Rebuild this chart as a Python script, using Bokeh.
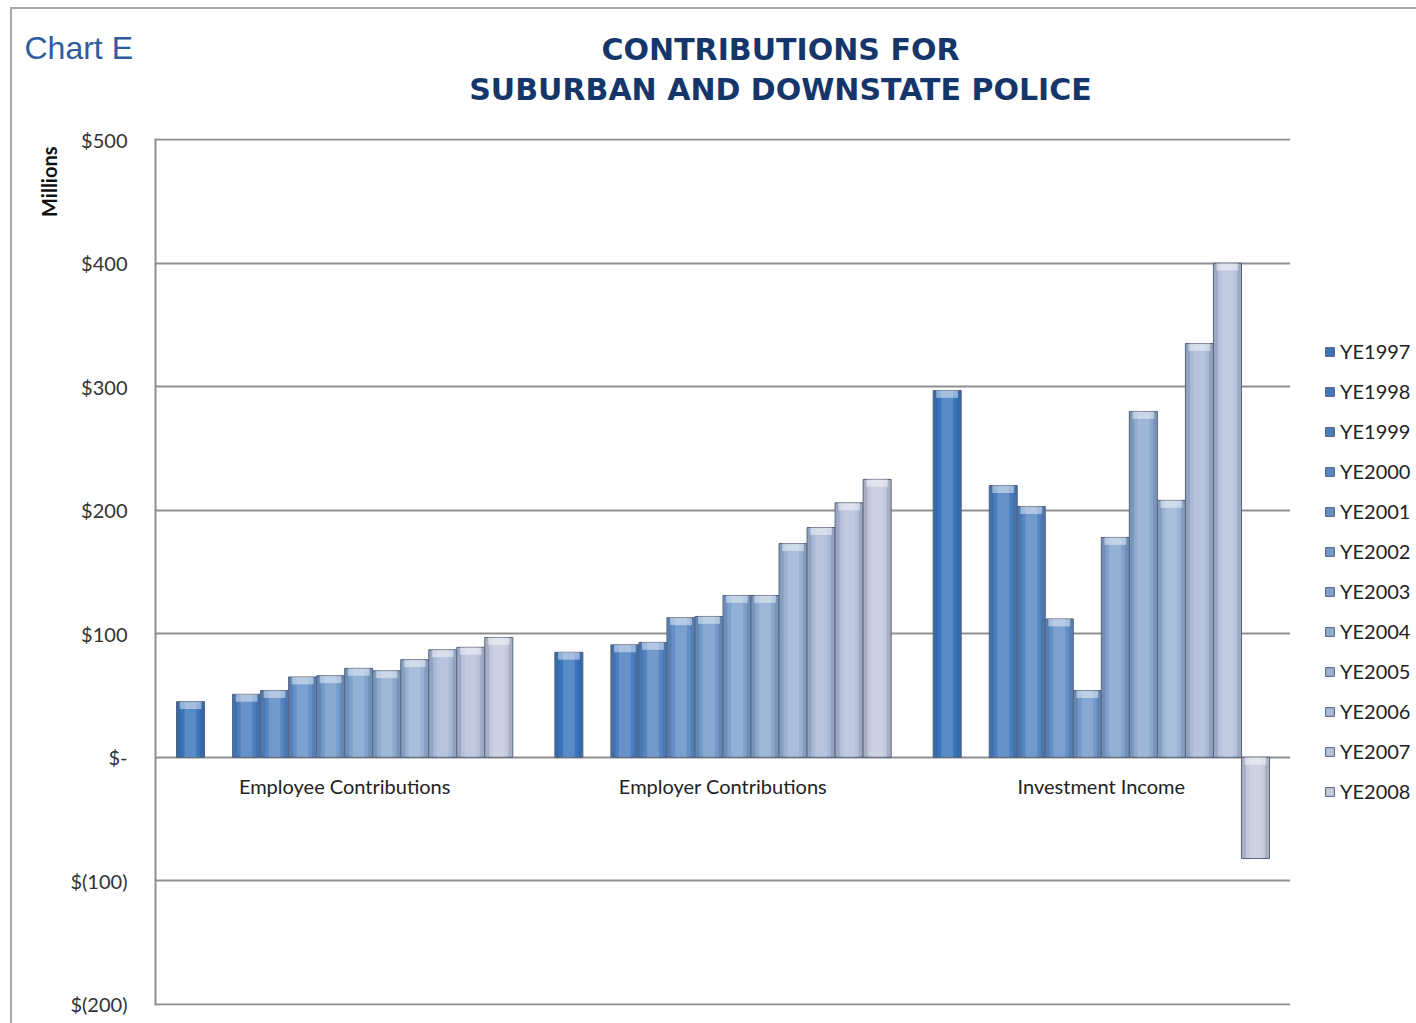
import numpy as np
from bokeh.plotting import figure
from bokeh.layouts import column, row
from bokeh.models import (ColumnDataSource, FactorRange, Range1d, FixedTicker,
                          Label, Legend, LegendItem, Title)
from bokeh.transform import dodge
from bokeh.embed import file_html
from bokeh.resources import INLINE

# ---------------- data ----------------
categories = ["Employee Contributions", "Employer Contributions", "Investment Income"]
years = ["YE1997", "YE1998", "YE1999", "YE2000", "YE2001", "YE2002",
         "YE2003", "YE2004", "YE2005", "YE2006", "YE2007", "YE2008"]
# values in $ millions: [employee, employer, investment]
ye1997 = [45, 85, 297]
ye1998 = [np.nan, np.nan, np.nan]
ye1999 = [51, 91, 220]
ye2000 = [54, 93, 203]
ye2001 = [65, 113, 112]
ye2002 = [66, 114, 54]
ye2003 = [72, 131, 178]
ye2004 = [70, 131, 280]
ye2005 = [79, 173, 208]
ye2006 = [87, 186, 335]
ye2007 = [89, 206, 400]
ye2008 = [97, 225, -82]
series = [ye1997, ye1998, ye1999, ye2000, ye2001, ye2002,
          ye2003, ye2004, ye2005, ye2006, ye2007, ye2008]
tick_values = [-200, -100, 0, 100, 200, 300, 400, 500]
tick_labels = ["$(200)", "$(100)", "$-", "$100", "$200", "$300", "$400", "$500"]

colors = ["#3a75bc", "#3f78bd", "#4a7ebf", "#5686c2", "#6390c6", "#7199c9",
          "#7fa2cc", "#8caacf", "#99b2d3", "#a8bad7", "#b6c2db", "#c4c9dc"]

FONT = "Lato"
EDGE = "#56627a"

# ---------------- header (titles) ----------------
head = figure(width=1404, height=117, title=None,
              x_range=Range1d(12, 1416), y_range=Range1d(126, 9),
              x_axis_location=None, y_axis_location=None,
              output_backend="svg", toolbar_location=None,
              min_border_left=0, min_border_right=0, min_border_top=0, min_border_bottom=0)
head.frame_align = False
head.outline_line_color = None
head.grid.visible = False
head.add_layout(Label(x=24, y=47, text="Chart E",
                      text_font="Liberation Sans", text_font_size="32px",
                      text_color="#2d5d9e", text_baseline="alphabetic"))
head.add_layout(Label(x=780, y=49, text="CONTRIBUTIONS FOR", text_font="DejaVu Sans",
                      text_font_style="bold", text_font_size="30px", text_color="#15366a",
                      text_align="center", text_baseline="alphabetic"))
head.add_layout(Label(x=780, y=89, text="SUBURBAN AND DOWNSTATE POLICE",
                      text_font="DejaVu Sans", text_font_style="bold",
                      text_font_size="30px", text_color="#15366a",
                      text_align="center", text_baseline="alphabetic"))

# ---------------- main chart ----------------
p = figure(width=1278, height=897, title=None,
           x_range=FactorRange(*categories, range_padding=0),
           y_range=Range1d(-201, 501),
           output_backend="svg", toolbar_location=None,
           min_border_left=143, min_border_right=0,
           min_border_top=12, min_border_bottom=18)
p.frame_align = False
p.outline_line_color = None
p.background_fill_color = "white"
p.border_fill_color = "white"

slots = 13.5
w = 1.0 / slots
for i, (yr, vals, col) in enumerate(zip(years, series, colors)):
    v = np.array(vals, dtype=float)
    upper = np.maximum(v, 0)
    src = ColumnDataSource(dict(cat=categories, val=v, up=upper, capb=upper - 6))
    off = (i - 5.5) / slots
    p.vbar(x=dodge("cat", off, range=p.x_range), top="val", bottom=0, width=w,
           source=src, fill_color=col, line_color=EDGE, line_width=1)
    p.vbar(x=dodge("cat", off, range=p.x_range), top="val", bottom=0, width=w * 0.42,
           source=src, fill_color="white", fill_alpha=0.16, line_color=None)
    for s in (-1, 1):
        p.vbar(x=dodge("cat", off + s * w * 0.41, range=p.x_range), top="val", bottom=0,
               source=src, width=w * 0.14, fill_color="#1b2a4e", fill_alpha=0.16,
               line_color=None)
    p.vbar(x=dodge("cat", off, range=p.x_range), top="up", bottom="capb", width=w * 0.78,
           source=src, fill_color="white", fill_alpha=0.45, line_color=None)

p.yaxis.ticker = FixedTicker(ticks=tick_values)
p.yaxis.major_label_overrides = {t: l for t, l in zip(tick_values, tick_labels)}
p.yaxis.major_label_text_font = FONT
p.yaxis.major_label_text_font_size = "20px"
p.yaxis.major_label_text_color = "#333333"
p.yaxis.major_tick_line_color = None
p.yaxis.minor_tick_line_color = None
p.yaxis.axis_line_color = "#8f8f8f"
p.yaxis.axis_line_width = 2
p.yaxis.major_label_standoff = 22

p.xaxis.fixed_location = 0
p.xaxis.axis_line_color = None
p.xaxis.major_tick_line_color = None
p.xaxis.minor_tick_line_color = None
p.xaxis.major_label_text_font = FONT
p.xaxis.major_label_text_font_size = "20px"
p.xaxis.major_label_text_color = "#222222"
p.xaxis.major_label_standoff = 11

p.xgrid.grid_line_color = None
p.ygrid.ticker = FixedTicker(ticks=tick_values)
p.ygrid.grid_line_color = "#8f8f8f"
p.ygrid.grid_line_width = 2

p.add_layout(Title(text="Millions", align="right", offset=8, text_font=FONT,
                   text_font_style="bold", text_font_size="20px",
                   text_color="#111111", standoff=14), "left")

# ---------------- legend panel ----------------
lg = figure(width=126, height=897, title=None,
            x_range=Range1d(0, 1), y_range=Range1d(0, 1),
            x_axis_location=None, y_axis_location=None,
            output_backend="svg", toolbar_location=None,
            min_border_left=0, min_border_right=0, min_border_top=0, min_border_bottom=0)
lg.frame_align = False
lg.outline_line_color = None
lg.grid.visible = False
items = []
for yr, col in zip(years, colors):
    # placeholder glyph (outside the visible range) that only supplies the legend swatch
    key_src = ColumnDataSource(dict(x=[-10.0], top=[0.0]))
    r = lg.vbar(x="x", top="top", width=0.1, source=key_src,
                fill_color=col, line_color=EDGE, line_width=1)
    items.append(LegendItem(label=yr, renderers=[r]))
legend = Legend(items=items, location=(34, 218), orientation="vertical",
                glyph_width=11, glyph_height=11, label_height=28, spacing=12,
                label_standoff=5, padding=0, margin=0,
                border_line_color=None, background_fill_alpha=0,
                label_text_font=FONT, label_text_font_size="20px",
                label_text_color="#222222")
lg.add_layout(legend, "center")

layout = column(head, row(p, lg, spacing=0), spacing=0)
layout.styles = {"margin-left": "10px", "margin-top": "7px",
                 "border-left": "2px solid #a8a8a8", "border-top": "2px solid #a8a8a8"}

open("out.html", "w").write(file_html(layout, INLINE))
